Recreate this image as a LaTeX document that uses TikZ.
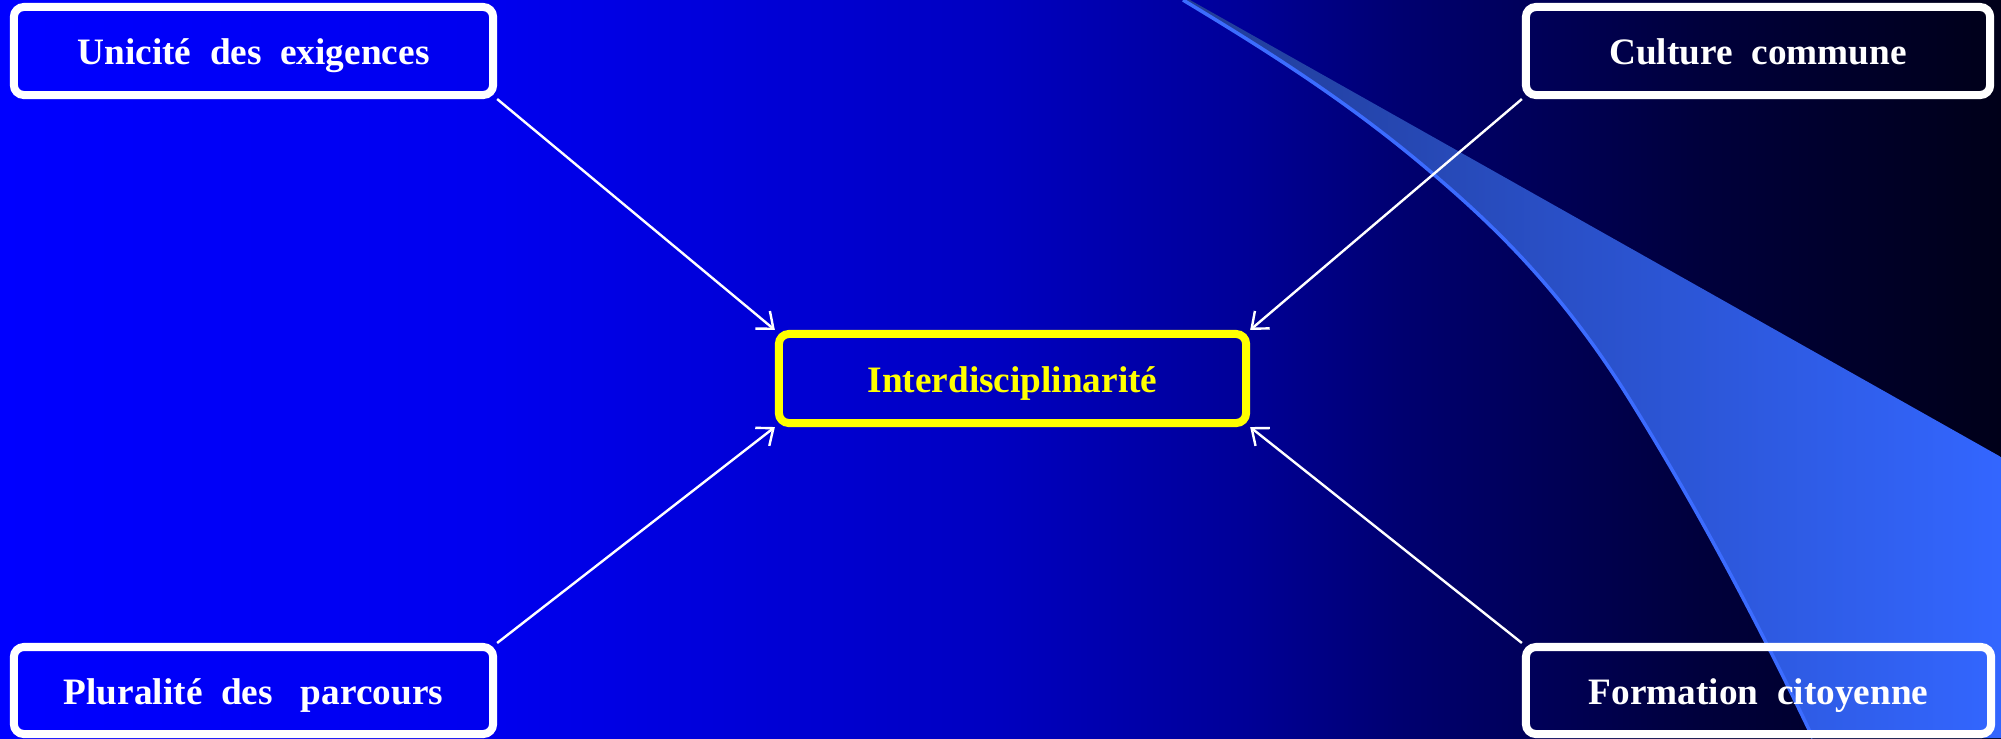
\documentclass[tikz,border=0pt]{standalone}
\usepackage{fontspec}
\setmainfont{Liberation Serif}
\usetikzlibrary{arrows.meta}
\definecolor{bgA}{RGB}{0,0,255}
\definecolor{bgB}{RGB}{0,0,238}
\definecolor{bgC}{RGB}{0,0,192}
\definecolor{bgD}{RGB}{0,0,150}
\definecolor{bgE}{RGB}{0,0,112}
\definecolor{bgF}{RGB}{0,0,60}
\definecolor{bgG}{RGB}{0,0,25}
\definecolor{swA}{RGB}{33,60,150}
\definecolor{swB}{RGB}{51,102,255}
\definecolor{swEdge}{RGB}{60,108,255}
\definecolor{hiYellow}{RGB}{255,255,0}
\begin{document}
\begin{tikzpicture}[x=0.01cm,y=-0.01cm,
  box/.style={draw=white,line width=0.08cm,rounded corners=0.1cm,inner sep=0pt,
    text=white,text height=0.27cm,text depth=0pt,
    font=\fontsize{10.6pt}{12pt}\selectfont\bfseries},
  link/.style={draw=white,line width=0.024cm,-{Straight Barb[length=4pt,width=6.5pt]}}]
\useasboundingbox (0,0) rectangle (2001,738);
% background gradient (piecewise)
\shade[left color=bgA,right color=bgB] (0,0) rectangle (501,738);
\shade[left color=bgB,right color=bgC] (500,0) rectangle (1001,738);
\shade[left color=bgC,right color=bgD] (1000,0) rectangle (1251,738);
\shade[left color=bgD,right color=bgE] (1250,0) rectangle (1401,738);
\shade[left color=bgE,right color=bgF] (1400,0) rectangle (1701,738);
\shade[left color=bgF,right color=bgG] (1700,0) rectangle (2001,738);
% swoosh
\def\swooshcurve{(1183,0) .. controls (1266,50) and (1349,102) .. (1432,173)
  .. controls (1498,229) and (1564,294) .. (1630,400)
  .. controls (1691,498) and (1752,610) .. (1813,738)}
\shade[left color=swA,right color=swB]
  \swooshcurve -- (2001,738) -- (2001,457) -- (1190,0) -- cycle;
\draw[swEdge,line width=0.035cm] \swooshcurve;
% boxes
\node[box,minimum width=4.79cm,minimum height=0.88cm] (U) at (253.5,51) {Unicité\ \ des\ \ exigences};
\node[box,minimum width=4.64cm,minimum height=0.88cm] (C) at (1758,51) {Culture\ \ commune};
\node[box,minimum width=4.79cm,minimum height=0.87cm] (P) at (253.5,690.5) {Pluralité\ \ des\ \ \ parcours};
\node[box,minimum width=4.65cm,minimum height=0.87cm] (F) at (1758.5,690.5) {Formation\ \ citoyenne};
\node[box,draw=hiYellow,text=hiYellow,minimum width=4.67cm,minimum height=0.89cm] (I) at (1012.5,378.5) {Interdisciplinarité};
% connectors
\draw[link] (U.south east) -- (I.north west);
\draw[link] (C.south west) -- (I.north east);
\draw[link] (P.north east) -- (I.south west);
\draw[link] (F.north west) -- (I.south east);
\end{tikzpicture}
\end{document}
